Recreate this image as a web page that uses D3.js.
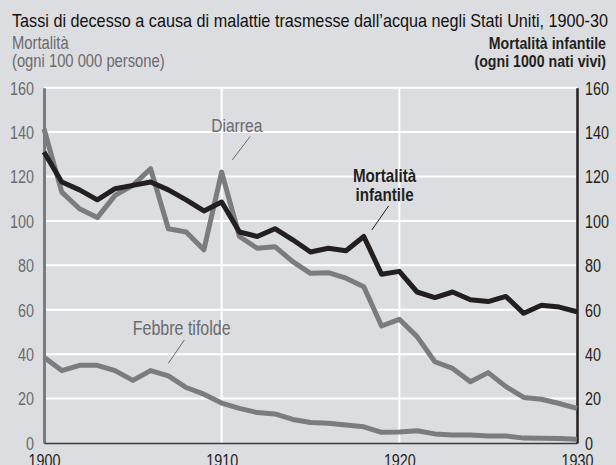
<!DOCTYPE html>
<html>
<head>
<meta charset="utf-8">
<script src="https://cdn.jsdelivr.net/npm/d3@7"></script>
<style>
  body { margin: 0; background: #dcdde0; }
  text { font-family: "Liberation Sans", Arial, sans-serif; }
</style>
</head>
<body>
<div id="chart"></div>
<script>
// data, one value per year 1900-1930
const years = d3.range(1900, 1931);
const infant = [131, 117.5, 114, 109.5, 114.5, 116, 117.5, 114, 109.5, 104.5, 108.5, 95, 93, 96.5, 91.5, 86,
  87.7, 86.6, 93, 76, 77.3, 68, 65.5, 68, 64.5, 63.7, 66, 58.4, 62, 61.2, 59.1];
const diarrhea = [141.5, 113, 105.5, 101.5, 111.5, 116, 123.5, 96.5, 95, 87, 122, 93, 87.7, 88.4, 81.7, 76.4,
  76.7, 74.2, 70.4, 52.7, 55.7, 47.9, 36.6, 33.6, 27.6, 31.7, 25.4, 20.5, 19.7, 17.8, 15.6];
const typhoid = [38.6, 32.6, 35, 35, 32.6, 28.2, 32.6, 30.2, 25, 22, 18, 15.6, 13.7, 13.1, 10.6, 9.2,
  8.9, 8.1, 7.3, 4.8, 5, 5.5, 4.1, 3.6, 3.6, 3.2, 3.2, 2.2, 2.1, 2, 1.7];
const yTicks = [0, 20, 40, 60, 80, 100, 120, 140, 160];
const xTicks = [1900, 1910, 1920, 1930];

const title = "Tassi di decesso a causa di malattie trasmesse dall\u2019acqua negli Stati Uniti, 1900-30";

const w = 616, h = 465;
const padL = 44, padR = 577, padT = 87.7, padB = 443;
const grey = "#7b7c7f", ink = "#231f20", greyText = "#6a6b6e";

// squeeze a regular font into a condensed one
function narrow(sel, k) {
  sel.each(function () {
    const len = this.getComputedTextLength();
    d3.select(this).attr("textLength", len * (k || 0.82)).attr("lengthAdjust", "spacingAndGlyphs");
  });
}

const svg = d3.select("#chart").append("svg")
  .attr("width", w).attr("height", h);

svg.append("rect").attr("width", w).attr("height", h).attr("fill", "#dcdde0");

const x = d3.scaleLinear().domain([1900, 1930]).range([padL, padR]);
const y = d3.scaleLinear().domain([0, 160]).range([padB, padT]);

// white grid
svg.append("g").selectAll("line")
  .data(yTicks.filter(d => d > 0))
  .join("line")
  .attr("x1", padL).attr("x2", padR)
  .attr("y1", d => y(d)).attr("y2", d => y(d))
  .attr("stroke", "#fff").attr("stroke-width", 2);

svg.append("g").selectAll("line")
  .data([1910, 1920])
  .join("line")
  .attr("x1", d => x(d)).attr("x2", d => x(d))
  .attr("y1", padT).attr("y2", padB)
  .attr("stroke", "#fff").attr("stroke-width", 2);

// axes
const yLeft = svg.append("g")
  .attr("transform", "translate(" + padL + ",0)")
  .call(d3.axisLeft(y).tickValues(yTicks).tickSize(0).tickPadding(10));
yLeft.select(".domain").attr("stroke", grey).attr("stroke-width", 3);
yLeft.selectAll("text").attr("fill", greyText).attr("font-size", 17.5)
  .attr("font-family", null).attr("dy", "0.36em").call(narrow);

const yRight = svg.append("g")
  .attr("transform", "translate(" + padR + ",0)")
  .call(d3.axisRight(y).tickValues(yTicks).tickSize(0).tickPadding(8));
yRight.select(".domain").attr("stroke", ink).attr("stroke-width", 2.5);
yRight.selectAll("text").attr("fill", ink).attr("font-size", 17.5)
  .attr("font-family", null).attr("dy", "0.36em").call(narrow);

const xAxis = svg.append("g")
  .attr("transform", "translate(0," + padB + ")")
  .call(d3.axisBottom(x).tickValues(xTicks).tickFormat(d3.format("d")).tickSize(0).tickPadding(0));
xAxis.select(".domain").attr("stroke", "#3a3a3c").attr("stroke-width", 1.5);
xAxis.selectAll("text").attr("fill", ink).attr("font-size", 17.5)
  .attr("font-family", null).attr("dy", 24).call(narrow);

// series
const line = d3.line().x((d, i) => x(years[i])).y(d => y(d));

svg.append("path").datum(typhoid).attr("d", line)
  .attr("fill", "none").attr("stroke", grey).attr("stroke-width", 5).attr("stroke-linejoin", "round");
svg.append("path").datum(diarrhea).attr("d", line)
  .attr("fill", "none").attr("stroke", grey).attr("stroke-width", 5).attr("stroke-linejoin", "round");
svg.append("path").datum(infant).attr("d", line)
  .attr("fill", "none").attr("stroke", ink).attr("stroke-width", 5).attr("stroke-linejoin", "round");

// labels on the lines, anchored in data units
const notes = [
  { lines: ["Diarrea"], year: 1910.85, value: 140.2, color: greyText, weight: "normal", size: 19,
    from: [1911.6, 138], to: [1910.6, 127.5] },
  { lines: ["Mortalità", "infantile"], year: 1919.17, value: 117.7, color: ink, weight: "bold", size: 18.5,
    from: [1919.4, 106.8], to: [1918.45, 95.9] },
  { lines: ["Febbre tifolde"], year: 1907.75, value: 48.6, color: greyText, weight: "normal", size: 19.5,
    from: [1907.9, 46.4], to: [1907.0, 35.9] }
];

notes.forEach(n => {
  svg.append("line")
    .attr("x1", x(n.from[0])).attr("y1", y(n.from[1]))
    .attr("x2", x(n.to[0])).attr("y2", y(n.to[1]))
    .attr("stroke", n.color).attr("stroke-width", 1);
  n.lines.forEach((s, i) => {
    svg.append("text")
      .attr("x", x(n.year)).attr("y", y(n.value) + i * 19)
      .attr("text-anchor", "middle").attr("font-size", n.size)
      .attr("font-weight", n.weight).attr("fill", n.color)
      .text(s).call(narrow);
  });
});

// headings
svg.append("text").attr("x", 12).attr("y", 27)
  .attr("font-size", 19).attr("fill", "#111")
  .attr("textLength", 596).attr("lengthAdjust", "spacingAndGlyphs")
  .text(title);

svg.append("text").attr("x", 12).attr("y", 49).attr("font-size", 18).attr("fill", greyText)
  .text("Mortalità").call(narrow);
svg.append("text").attr("x", 12).attr("y", 67).attr("font-size", 18).attr("fill", greyText)
  .text("(ogni 100 000 persone)").call(narrow);
svg.append("text").attr("x", 606).attr("y", 49).attr("font-size", 17.3).attr("fill", ink)
  .attr("text-anchor", "end").attr("font-weight", "bold")
  .text("Mortalità infantile").call(narrow);
svg.append("text").attr("x", 606).attr("y", 67).attr("font-size", 17.3).attr("fill", ink)
  .attr("text-anchor", "end").attr("font-weight", "bold")
  .text("(ogni 1000 nati vivi)").call(narrow);
</script>
</body>
</html>
